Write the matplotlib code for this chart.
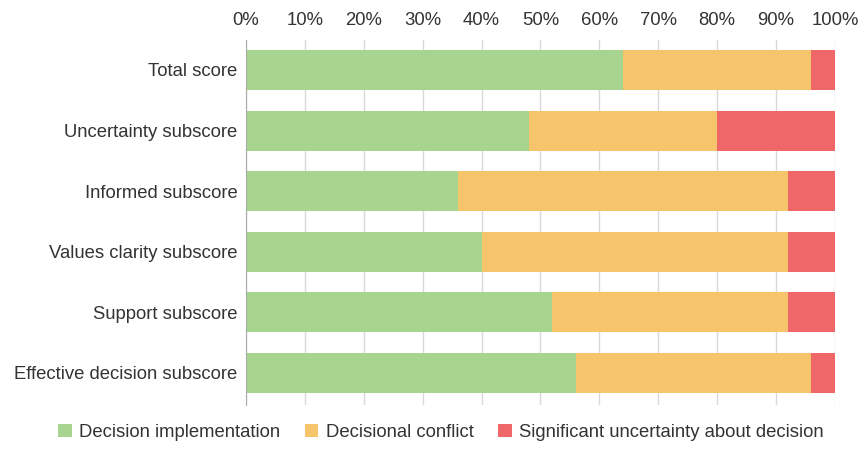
import numpy as np
import matplotlib.pyplot as plt
from matplotlib.ticker import PercentFormatter

plt.rcParams['font.family'] = ['Liberation Sans', 'DejaVu Sans']

categories = ['Total score', 'Uncertainty subscore', 'Informed subscore',
              'Values clarity subscore', 'Support subscore', 'Effective decision subscore']
implementation = [64, 48, 36, 40, 52, 56]
conflict = [32, 32, 56, 52, 40, 40]
uncertainty = [4, 20, 8, 8, 8, 4]

series = [
    ('Decision implementation', implementation, '#a7d48e'),
    ('Decisional conflict', conflict, '#f5c46b'),
    ('Significant uncertainty about decision', uncertainty, '#f0676a'),
]

fig = plt.figure(figsize=(8.61, 4.51), dpi=100)
ax = fig.add_axes([0.2857, 0.102, 0.684, 0.81])

y = np.arange(len(categories))
left = np.zeros(len(categories))
for name, vals, color in series:
    ax.barh(y, vals, left=left, height=0.66, color=color, label=name, zorder=2)
    left += np.array(vals)

fs = 13.3
ax.set_xlim(0, 100)
ax.set_ylim(5.53, -0.5)
ax.set_xticks(np.arange(0, 101, 10))
ax.xaxis.set_major_formatter(PercentFormatter(decimals=0))
ax.xaxis.tick_top()
ax.tick_params(axis='x', length=0, pad=8, labelsize=fs, colors='#333333')
ax.set_yticks(y)
ax.set_yticklabels(categories)
ax.tick_params(axis='y', length=0, pad=6, labelsize=fs, colors='#333333')
ax.grid(axis='x', color='#bbbbbb', linewidth=1, alpha=0.55, zorder=3)
for s in ['top', 'right', 'bottom']:
    ax.spines[s].set_visible(False)
ax.spines['left'].set_color('#aaaaaa')

fig.legend(loc='lower center', bbox_to_anchor=(0.512, -0.015), ncol=3, frameon=False,
           fontsize=fs, handlelength=0.75, handleheight=0.75, handletextpad=0.4,
           columnspacing=1.3, labelcolor='#333333')

fig.savefig('out.png', dpi=100)
